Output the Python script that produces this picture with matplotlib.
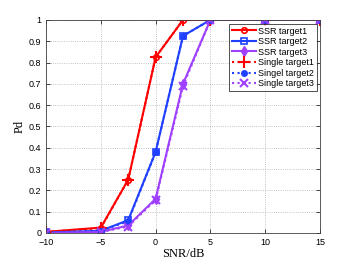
import numpy as np
import matplotlib.pyplot as plt

snr = [-10, -5, -2.5, 0, 2.5, 5, 10, 15]
ssr1 = [0.005, 0.025, 0.25, 0.825, 1.0, 1.0, 1.0, 1.0]
ssr2 = [0.002, 0.01, 0.06, 0.38, 0.925, 1.0, 1.0, 1.0]
ssr3 = [0.0, 0.005, 0.035, 0.16, 0.70, 1.0, 1.0, 1.0]
single1 = [0.005, 0.022, 0.25, 0.825, 1.0, 1.0, 1.0, 1.0]
single2 = [0.002, 0.01, 0.055, 0.38, 0.925, 1.0, 1.0, 1.0]
single3 = [0.0, 0.004, 0.03, 0.155, 0.69, 1.0, 1.0, 1.0]

red = '#ff0000'
blue = '#2040ff'
purple = '#a040ff'

plt.rcParams['font.family'] = ['Liberation Sans', 'DejaVu Sans']
fig = plt.figure(figsize=(3.54, 2.62), dpi=100)
ax = fig.add_axes([0.130, 0.111, 0.774, 0.813])

ax.plot(snr, ssr1, '-o', color=red, lw=1.5, ms=4, mfc='none', mew=1.2, label='SSR target1')
ax.plot(snr, ssr2, '-s', color=blue, lw=1.5, ms=5, mfc='none', mew=1.2, label='SSR target2')
ax.plot(snr, ssr3, '-d', color=purple, lw=1.5, ms=5, label='SSR target3')
ax.plot(snr, single1, ':+', color=red, lw=1.5, ms=8, mew=1.5, label='Single target1')
ax.plot(snr, single2, ':o', color=blue, lw=1.5, ms=4, label='Singel target2')
ax.plot(snr, single3, ':x', color=purple, lw=1.5, ms=6, mew=1.5, label='Single target3')

ax.set_xlim(-10, 15)
ax.set_ylim(0, 1)
ax.set_xticks([-10, -5, 0, 5, 10, 15])
ax.set_yticks(np.arange(0, 1.01, 0.1))
ax.set_yticklabels(['0', '0.1', '0.2', '0.3', '0.4', '0.5', '0.6', '0.7', '0.8', '0.9', '1'])
ax.tick_params(labelsize=6.5, direction='in', length=3, width=0.5, top=True, right=True)
ax.grid(True, linestyle=':', color='#b0b0b0', lw=0.6)
for s in ax.spines.values():
    s.set_linewidth(0.6)
    s.set_color('#404040')

ax.set_xlabel('SNR/dB', family='Liberation Serif', fontsize=9, labelpad=1)
ax.set_ylabel('Pd', family='Liberation Serif', fontsize=9, labelpad=2)

leg = ax.legend(loc='upper right', bbox_to_anchor=(0.995, 0.99), fontsize=6.5, frameon=True, fancybox=False,
                edgecolor='black', borderpad=0.3, labelspacing=0.17, handlelength=2.6, handletextpad=0.3,
                borderaxespad=0.2)
leg.get_frame().set_linewidth(0.6)

fig.savefig('out.png', dpi=100)
